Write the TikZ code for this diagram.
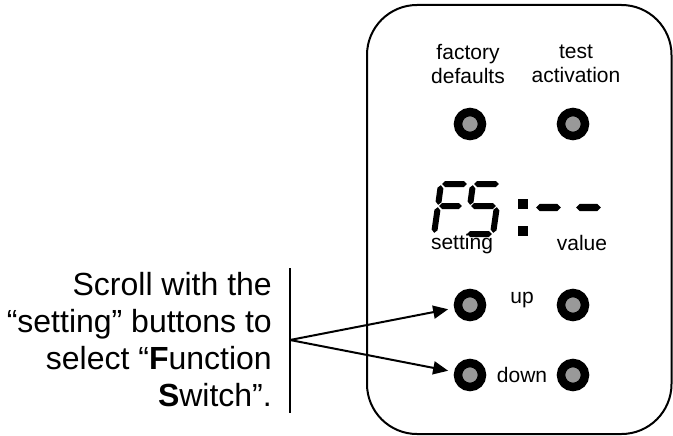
\documentclass[tikz,border=0pt]{standalone}
\usepackage{fontspec}
\setmainfont{Liberation Sans}
\usetikzlibrary{calc,arrows.meta}
\definecolor{btngray}{gray}{0.6}

% one seven-segment bar: elongated hexagon between two corner points
% #1, #2 = corner coordinates, #3 = half thickness
\newcommand\hexseg[3]{%
  \coordinate (sa) at ($(#1)!1.2pt!(#2)$);
  \coordinate (sb) at ($(#2)!1.2pt!(#1)$);
  \coordinate (sa1) at ($(sa)!#3!(sb)$);
  \coordinate (sb1) at ($(sb)!#3!(sa)$);
  \fill (sa) -- ($(sa1)!#3!90:(sb)$) -- ($(sb1)!#3!-90:(sa)$) -- (sb)
        -- ($(sb1)!#3!90:(sa)$) -- ($(sa1)!#3!-90:(sb)$) -- cycle;}

\begin{document}
\begin{tikzpicture}[x=1pt,y=-1pt,
  lbl/.style={font=\fontsize{21}{24}\selectfont, align=center, inner sep=0pt},
  btn/.style={circle, draw=black, line width=8.5pt, fill=btngray,
              minimum size=24pt, inner sep=0pt},
  wire/.style={line width=2pt},
  pointer/.style={wire, -{Triangle[length=15pt,width=13pt]}, shorten >=6pt}]
\useasboundingbox (0,0) rectangle (673,436);

% device outline
\draw[wire, rounded corners=50pt] (367,5) rectangle (671.5,434);

% button captions
\node[lbl] (factory) at (468,64) {factory\\defaults};
\node[lbl] (test) at (576,64) {test\\activation};
\node[lbl] (setting) at (462,244) {setting};
\node[lbl] (value) at (582,242.5) {value};
\node[lbl] (up) at (522,300.5) {up};
\node[lbl] (down) at (522,374.5) {down};

% push buttons
\node[btn] (fd) at (470,124) {};
\node[btn] (ta) at (573,124) {};
\node[btn] (su) at (470,305) {};
\node[btn] (vu) at (573,305) {};
\node[btn] (sd) at (470,375) {};
\node[btn] (vd) at (573,375) {};

% display "F5:--"
\coordinate (fTL) at (441,184);   \coordinate (fTR) at (468,184);
\coordinate (fML) at (438,206); \coordinate (fMR) at (463,206);
\coordinate (fBL) at (434,234);
\hexseg{fTL}{fTR}{3pt}
\hexseg{fTL}{fML}{3pt}
\hexseg{fML}{fMR}{3pt}
\hexseg{fML}{fBL}{3pt}

\coordinate (sTL) at (473,184);   \coordinate (sTR) at (500,184);
\coordinate (sML) at (470,206); \coordinate (sMR) at (497,206);
\coordinate (sBL) at (466,234);   \coordinate (sBR) at (493,234);
\hexseg{sTL}{sTR}{3pt}
\hexseg{sTL}{sML}{3pt}
\hexseg{sML}{sMR}{3pt}
\hexseg{sMR}{sBR}{3pt}
\hexseg{sBL}{sBR}{3pt}

\fill (517.5,198.5) rectangle (527.5,208.5);
\fill (517.5,225.5) rectangle (527.5,235.5);

\coordinate (d1a) at (535,207.5); \coordinate (d1b) at (562,207.5);
\coordinate (d2a) at (575,207.5); \coordinate (d2b) at (602,207.5);
\hexseg{d1a}{d1b}{3.7pt}
\hexseg{d2a}{d2b}{3.7pt}

% instruction text with its bracket and pointers
\node[anchor=east, align=right, inner sep=0pt,
      font=\fontsize{32}{37}\selectfont] (note) at (272,340)
  {Scroll with the\\“setting” buttons to\\select “\textbf{F}unction\\\textbf{S}witch”.};
\coordinate (bartop) at (290,268);
\coordinate (barbot) at (290,413);
\coordinate (fork) at (290,340);
\draw[wire] (bartop) -- (barbot);
\draw[pointer] (fork) -- (su);
\draw[pointer] (fork) -- (sd);
\end{tikzpicture}
\end{document}
